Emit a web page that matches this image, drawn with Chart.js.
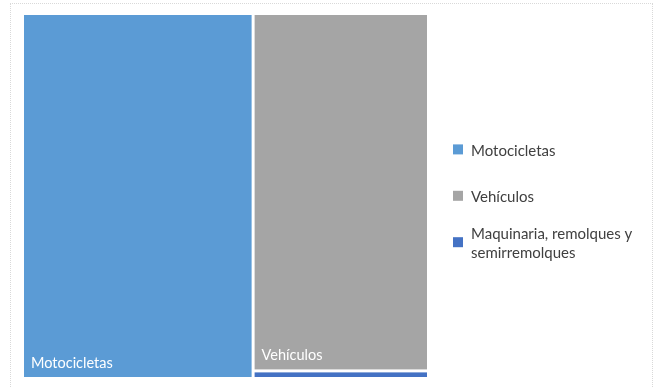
<!DOCTYPE html>
<html>
<head>
<meta charset="utf-8">
<script src="https://cdn.jsdelivr.net/npm/chart.js@4"></script>
<style>
  html, body { margin: 0; padding: 0; background: #fff; overflow: hidden; }
  #wrap { position: relative; width: 655px; height: 387px; }
  #frame { position: absolute; left: 10px; top: 3px; width: 641px; height: 420px; border: 1px dotted #d9d9d9; }
  canvas { position: absolute; left: 0; top: 0; }
</style>
</head>
<body>
<div id="wrap">
  <div id="frame"></div>
  <canvas id="chart" width="655" height="387"></canvas>
</div>
<script>
const categories = ["Motocicletas", "Vehículos", "Maquinaria, remolques y semirremolques"];
const legendLines = [["Motocicletas"], ["Vehículos"], ["Maquinaria, remolques y", "semirremolques"]];
const values = [568, 423, 9];
const colors = ["#5B9BD5", "#A5A5A5", "#4472C4"];

const total = values.reduce((a, b) => a + b, 0);

// first item takes the left column, the rest are stacked in the right column
function layout() {
  const boxes = [{ x0: 0, x1: values[0], y0: 0, y1: 1 }];
  const rest = total - values[0];
  let y = 0;
  for (let i = 1; i < values.length; i++) {
    const h = values[i] / rest;
    boxes.push({ x0: values[0], x1: total, y0: y, y1: y + h });
    y += h;
  }
  return boxes;
}

const treemapPlugin = {
  id: "treemap",
  afterDraw(chart) {
    const { ctx, scales: { x, y } } = chart;
    const boxes = layout();
    ctx.save();
    boxes.forEach((b, i) => {
      const left = x.getPixelForValue(b.x0);
      const right = x.getPixelForValue(b.x1);
      const top = y.getPixelForValue(b.y0);
      const bottom = y.getPixelForValue(b.y1);
      ctx.fillStyle = colors[i];
      ctx.fillRect(left + 1.5, top + 1.5, right - left - 3, bottom - top - 3);
      if (bottom - top > 30) {
        ctx.fillStyle = "#ffffff";
        ctx.font = "14.5px Lato";
        ctx.textBaseline = "alphabetic";
        ctx.fillText(categories[i], left + 8.5, bottom - 10.5);
      }
    });

    // legend on the right
    ctx.font = "15px Lato";
    ctx.textBaseline = "middle";
    legendLines.forEach((lines, i) => {
      const c = 150.7 + i * 46.4;
      ctx.fillStyle = colors[i];
      ctx.fillRect(453, c - 6.3, 10, 10);
      ctx.fillStyle = "#404040";
      lines.forEach((line, j) => {
        ctx.fillText(line, 471, c + (j - (lines.length - 1) / 2) * 19.5);
      });
    });
    ctx.restore();
  },
};

const ctx = document.getElementById("chart").getContext("2d");
const myChart = new Chart(ctx, {
  type: "scatter",
  data: {
    datasets: [{ label: "Valores", data: [] }],
  },
  options: {
    responsive: false,
    animation: false,
    layout: {
      padding: { left: 22.5, right: 226.5, top: 13.5, bottom: 8.5 },
    },
    scales: {
      x: { type: "linear", min: 0, max: total, display: false },
      y: { type: "linear", min: 0, max: 1, reverse: true, display: false },
    },
    plugins: {
      legend: { display: false },
      tooltip: { enabled: false },
    },
  },
  plugins: [treemapPlugin],
});
</script>
</body>
</html>
